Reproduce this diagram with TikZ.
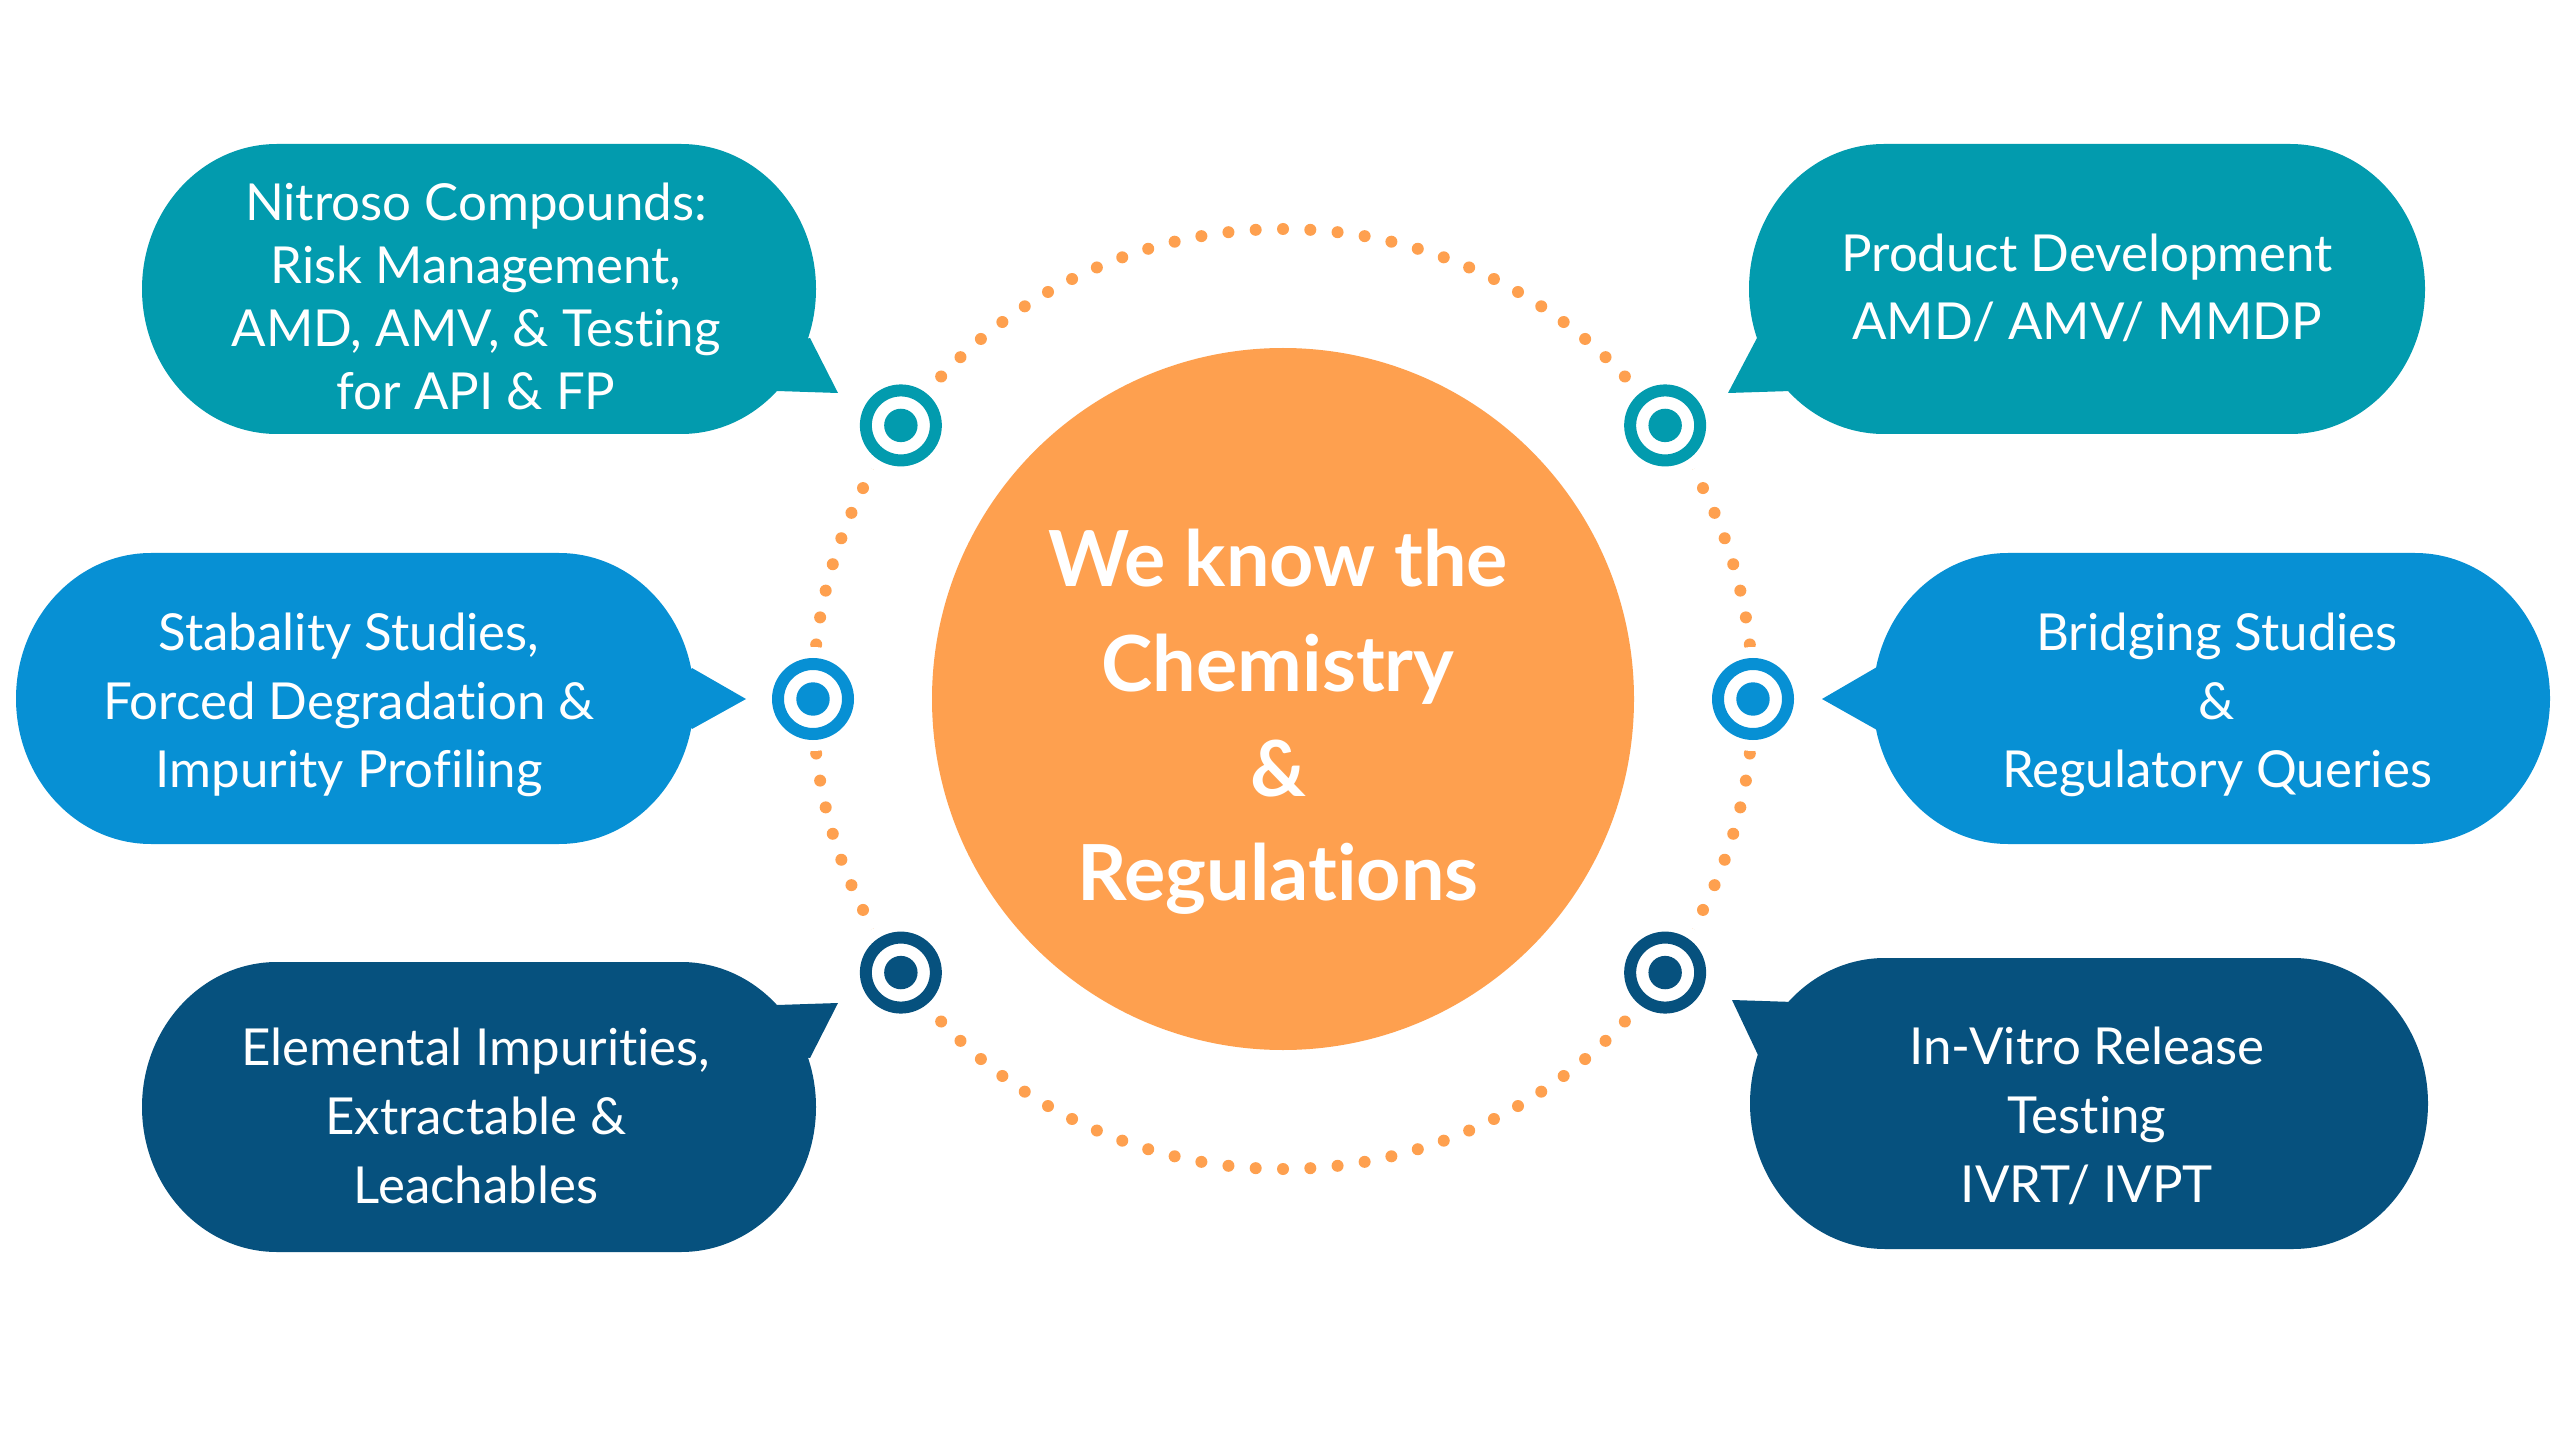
\documentclass[tikz,border=0pt]{standalone}
\usepackage{fontspec}
\setmainfont{Lato}[Ligatures={NoCommon,NoDiscretionary,NoContextual}]
\usetikzlibrary{calc}
\definecolor{tealc}{HTML}{029BAE}
\definecolor{bluec}{HTML}{0790D4}
\definecolor{darkc}{HTML}{06517E}
\definecolor{orangec}{HTML}{FEA04F}
\newcommand\bubblebody[5]{% x1 x2 y1 y2 color
  \fill[#5] ({#1+135},#3) -- ({#2-135},#3)
    arc[start angle=-90,end angle=90,x radius=135,y radius={(#4-#3)/2}]
    -- ({#1+135},#4)
    arc[start angle=90,end angle=270,x radius=135,y radius={(#4-#3)/2}] -- cycle;}
\tikzset{
  btext/.style={text=white, align=center, inner sep=0pt, font=\fontsize{15.3pt}{20.6pt}\selectfont},
  btextTL/.style={btext, font=\fontsize{15.3pt}{18.9pt}\selectfont},
  ctext/.style={text=white, align=center, inner sep=0pt, font=\bfseries\fontsize{23.2pt}{31.4pt}\selectfont},
}
\begin{document}
\begin{tikzpicture}[x=0.3pt,y=-0.3pt]
\useasboundingbox (0,0) rectangle (2560,1439);
\fill[white] (0,0) rectangle (2560,1439);
\coordinate (c) at (1283,699);
% dotted ring
\foreach \i in {0,...,107} \fill[orangec] (c) ++({-90+\i*10/3}:470) circle[radius=6];
% center circle
\fill[orangec] (c) circle[radius=351];
\node[ctext] (centre) at (1278,722) {We know the\\Chemistry\\\&\\Regulations};
% bubbles
\bubblebody{142}{816}{144}{434}{tealc}
\fill[tealc] (810,338) -- (838,393) -- (777,391) -- (760,350) -- cycle;
\bubblebody{1749}{2425}{144}{434}{tealc}
\fill[tealc] (1757,338) -- (1728,393) -- (1791,391) -- (1810,350) -- cycle;
\bubblebody{16}{694}{553}{844}{bluec}
\fill[bluec] (692,668) -- (746,699) -- (692,729) -- (670,699) -- cycle;
\bubblebody{1873}{2550}{553}{844}{bluec}
\fill[bluec] (1877,667) -- (1822,699) -- (1877,730) -- (1900,699) -- cycle;
\bubblebody{142}{816}{962}{1252}{darkc}
\fill[darkc] (777,1005) -- (838,1003) -- (810,1058) -- (760,1050) -- cycle;
\bubblebody{1750}{2428}{958}{1249}{darkc}
\fill[darkc] (1793,1002) -- (1732,1000) -- (1758,1055) -- (1810,1045) -- cycle;
% texts
\node[btextTL] (tTL) at (476,296) {Nitroso Compounds:\\Risk Management,\\AMD, AMV, \& Testing\\for API \& FP};
\node[btext] (tTR) at (2087,288) {Product Development\\AMD/ AMV/ MMDP};
\node[btext] (tML) at (349,705) {Stabality Studies,\\Forced Degradation \&\\Impurity Profiling};
\node[btext] (tMR) at (2217,705) {Bridging Studies\\\&\\Regulatory Queries};
\node[btext] (tBL) at (476,1116) {Elemental Impurities,\\Extractable \&\\Leachables};
\node[btext] (tBR) at (2087,1116) {In-Vitro Release\\Testing\\IVRT/ IVPT};
% markers
\foreach \a/\col/\nm in {215.6/tealc/mTL, -35.6/tealc/mTR, 180/bluec/mML, 0/bluec/mMR, 144.4/darkc/mBL, 35.6/darkc/mBR}{
  \coordinate (\nm) at ($(c)+(\a:470)$);
  \fill[white] (\nm) circle[radius=52];
  \draw[\col, line width=3.6pt] (\nm) circle[radius=35];
  \fill[\col] (\nm) circle[radius=16.7];
}
\end{tikzpicture}
\end{document}
